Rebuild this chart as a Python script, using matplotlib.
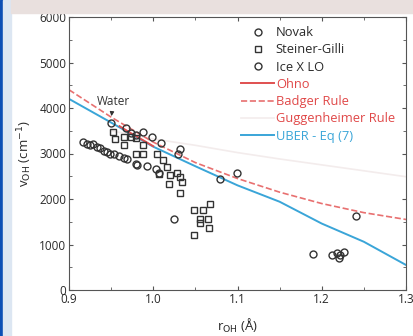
import numpy as np
import matplotlib.pyplot as plt
from matplotlib.patches import Rectangle
from matplotlib.ticker import MultipleLocator

plt.rcParams['font.family'] = ['Open Sans', 'DejaVu Sans']

# Novak (circles)
novak_r = [0.950, 0.968, 0.973, 0.980, 0.988, 0.998, 1.009, 1.029, 1.032, 1.025,
           1.079, 1.099, 1.241, 1.190, 1.212, 1.218, 1.220, 1.222, 1.227]
novak_v = [3680, 3550, 3450, 3400, 3475, 3370, 3230, 3000, 3090, 1560,
           2430, 2580, 1630, 800, 780, 820, 700, 780, 830]

# Steiner-Gilli (squares)
sg_r = [0.952, 0.955, 0.965, 0.965, 0.974, 0.980, 0.980, 0.988, 0.988, 1.005,
        1.007, 1.011, 1.016, 1.020, 1.019, 1.028, 1.032, 1.034, 1.032,
        1.048, 1.048, 1.059, 1.067, 1.055, 1.055, 1.065, 1.066]
sg_v = [3480, 3310, 3370, 3190, 3370, 3330, 3000, 3000, 3190, 2990,
        2560, 2850, 2700, 2520, 2340, 2580, 2490, 2380, 2140,
        1760, 1200, 1760, 1900, 1570, 1480, 1570, 1360]

# Ice X LO (circles)
ice_r = [0.917, 0.921, 0.925, 0.929, 0.933, 0.937, 0.941, 0.945, 0.949, 0.953,
         0.959, 0.965, 0.969, 0.979, 0.981, 0.992, 1.003, 1.007]
ice_v = [3250, 3200, 3180, 3200, 3150, 3120, 3050, 3030, 3000, 2980,
         2950, 2900, 2870, 2760, 2750, 2720, 2650, 2580]

# model curves
ohno_r = [0.960, 0.975, 0.990, 1.000]
ohno_v = [3600, 3430, 3270, 3160]
badger_r = [0.90, 0.95, 1.00, 1.05, 1.10, 1.15, 1.20, 1.25, 1.30]
badger_v = [4400, 3800, 3250, 2800, 2450, 2150, 1900, 1700, 1550]
gugg_r = [0.95, 1.00, 1.05, 1.10, 1.15, 1.20, 1.25, 1.30]
gugg_v = [3500, 3320, 3180, 3020, 2880, 2750, 2620, 2490]
uber_r = [0.90, 0.95, 1.00, 1.05, 1.10, 1.15, 1.20, 1.25, 1.30]
uber_v = [4200, 3680, 3150, 2720, 2300, 1940, 1460, 1060, 550]

fig = plt.figure(figsize=(4.13, 3.36), dpi=100)
# slide background
fig.patches.append(Rectangle((0, 0), 3 / 413, 1, transform=fig.transFigure, color='#0b4fb5', zorder=0))
fig.patches.append(Rectangle((3 / 413, 0), 8 / 413, 1, transform=fig.transFigure, color='#dce6f2', zorder=0))
fig.patches.append(Rectangle((11 / 413, 1 - 13 / 336), 1, 13 / 336, transform=fig.transFigure,
                             color='#e9e0de', zorder=0))

ax = fig.add_axes([69 / 413, 46 / 336, 337 / 413, 273 / 336])

ax.plot(gugg_r, gugg_v, '-', color='#f3ecec', lw=1.2, label='Guggenheimer Rule')
ax.plot(badger_r, badger_v, '--', color='#e87070', lw=1.2, label='Badger Rule')
ax.plot(uber_r, uber_v, '-', color='#3aa5d8', lw=1.4, label='UBER - Eq (7)')
ax.plot(ohno_r, ohno_v, '-', color='#e05050', lw=1.4, label='Ohno')

mk = dict(ls='none', mfc='none', mec='#333333', mew=1.0, ms=5)
ax.plot(novak_r, novak_v, marker='o', label='Novak', **mk)
ax.plot(sg_r, sg_v, marker='s', label='Steiner-Gilli', **dict(mk, ms=4.5))
ax.plot(ice_r, ice_v, marker='o', label='Ice X LO', **mk)

ax.annotate('Water', xy=(0.950, 3760), xytext=(0.9525, 4150), ha='center', va='center',
            fontsize=8.5, color='#333333',
            arrowprops=dict(arrowstyle='-|>', color='#333333', lw=0.8, mutation_scale=6))

ax.set_xlim(0.9, 1.3)
ax.set_ylim(0, 6000)
ax.xaxis.set_major_locator(MultipleLocator(0.1))
ax.xaxis.set_minor_locator(MultipleLocator(0.05))
ax.yaxis.set_major_locator(MultipleLocator(1000))
ax.yaxis.set_minor_locator(MultipleLocator(500))
ax.set_xticks([0.9, 1.0, 1.1, 1.2, 1.3])
ax.set_xticklabels(['0.9', '1.0', '1.1', '1.2', '1.3'])
ax.tick_params(which='both', direction='in', top=True, right=True, colors='#555555',
               labelcolor='#2a2a2a', labelsize=8.5, pad=2)
ax.tick_params(which='major', length=3)
ax.tick_params(which='minor', length=2)
for s in ax.spines.values():
    s.set_color('#555555')

ax.set_xlabel('r$_{\\rm OH}$ (Å)', fontsize=9.5, color='#2a2a2a', labelpad=8)
ax.set_ylabel('v$_{\\rm OH}$ (cm$^{-1}$)', fontsize=9.5, color='#2a2a2a', labelpad=4)

handles, labels = ax.get_legend_handles_labels()
order = ['Novak', 'Steiner-Gilli', 'Ice X LO', 'Ohno', 'Badger Rule', 'Guggenheimer Rule', 'UBER - Eq (7)']
hmap = dict(zip(labels, handles))
leg = ax.legend([hmap[k] for k in order], order, loc='upper right', frameon=False, fontsize=9.3,
                handlelength=2.6, handletextpad=0.1, labelspacing=0.33, borderaxespad=0.2,
                bbox_to_anchor=(0.99, 0.995))
tcol = ['#2a2a2a', '#2a2a2a', '#2a2a2a', '#e04848', '#e04848', '#e04848', '#3aa5d8']
for t, c in zip(leg.get_texts(), tcol):
    t.set_color(c)

fig.savefig('out.png', dpi=100)
